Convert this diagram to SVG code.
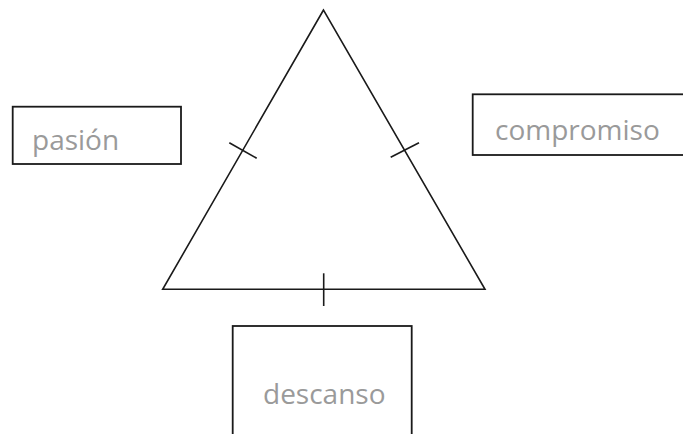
<svg xmlns="http://www.w3.org/2000/svg" width="683" height="434" viewBox="0 0 683 434">
  <style>
    .box { fill: #ffffff; stroke: #1a1a1a; stroke-width: 1.8; }
    .edge { fill: none; stroke: #1a1a1a; stroke-width: 1.6; stroke-linejoin: miter; }
    .tick { stroke: #1a1a1a; stroke-width: 1.6; }
    .label { font-family: "Open Sans", "Noto Sans", sans-serif; font-size: 28px; fill: #9a9a9a; }
  </style>
  <rect width="683" height="434" fill="#ffffff"/>
  <g id="connectors">
    <polygon class="edge" points="323.5,10 162.7,289.3 485,289.3"/>
    <line class="tick" x1="229.3" y1="142.7" x2="256.7" y2="158.3"/>
    <line class="tick" x1="390.7" y1="157.3" x2="419" y2="142.7"/>
    <line class="tick" x1="323.7" y1="273.3" x2="323.7" y2="306"/>
  </g>
  <g id="pasion">
    <rect class="box" x="12.7" y="106.7" width="168.3" height="57.3"/>
    <text class="label" x="32" y="150">pasión</text>
  </g>
  <g id="compromiso">
    <rect class="box" x="472.7" y="94.3" width="220" height="60.7"/>
    <text class="label" x="495" y="140">compromiso</text>
  </g>
  <g id="descanso">
    <rect class="box" x="232.7" y="326" width="179" height="120"/>
    <text class="label" x="263" y="404">descanso</text>
  </g>
</svg>
